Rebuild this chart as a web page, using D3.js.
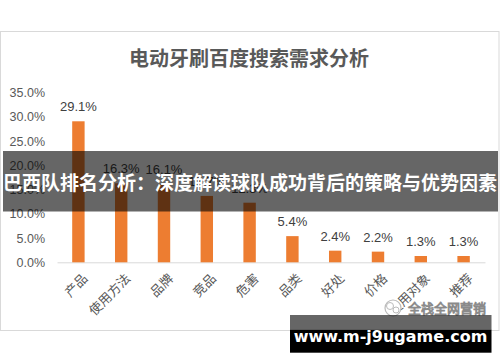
<!DOCTYPE html>
<html>
<head>
<meta charset="utf-8">
<script src="https://cdn.jsdelivr.net/npm/d3@7"></script>
<style>
  html, body { margin: 0; padding: 0; background: #fff; }
  svg { display: block; }
</style>
</head>
<body>
<script>
let categories = ["产品", "使用方法", "品牌", "竞品", "危害", "品类", "好处", "价格", "使用对象", "推荐"];
let values = [29.1, 16.3, 16.1, 13.7, 12.3, 5.4, 2.4, 2.2, 1.3, 1.3];
let yTicks = [0, 5, 10, 15, 20, 25, 30, 35];
let title = "电动牙刷百度搜索需求分析";
let bannerText = "巴西队排名分析：深度解读球队成功背后的策略与优势因素";
let siteText = "www.m-j9ugame.com";
let watermarkText = "全栈全网营销";

let width = 500;
let height = 362;

let margins = {
  top: 92.7,
  bottom: 99.7,
  left: 57,
  right: 15,
}

let cjk = "'Noto Sans CJK SC', 'Noto Sans', sans-serif";
let latin = "'Liberation Sans', Arial, sans-serif";

let data = d3.zip(categories, values).map(d => ({ cat: d[0], value: d[1] }));

let xScale = d3.scaleBand(categories, [margins.left, width - margins.right])
  .paddingInner(0.71)
  .paddingOuter(0.355);
let yScale = d3.scaleLinear([0, 35], [height - margins.bottom, margins.top]);

let svg = d3.create('svg')
  .attr('width', width)
  .attr('height', height);

// chart frame
svg.append('rect')
  .attr('x', 0.5)
  .attr('y', 31.5)
  .attr('width', 498.5)
  .attr('height', 299)
  .attr('fill', '#fff')
  .attr('stroke', '#d9d9d9')
  .attr('stroke-width', 1);

svg.append('text')
  .text(title)
  .attr('x', 249)
  .attr('y', 66)
  .attr('text-anchor', 'middle')
  .attr('font-family', cjk)
  .attr('font-weight', 'bold')
  .attr('font-size', 20)
  .attr('fill', '#595959');

let yAxis = d3.axisLeft(yScale)
  .tickValues(yTicks)
  .tickFormat(d => d3.format('.1f')(d) + '%')
  .tickSize(0)
  .tickPadding(12);

let gy = svg.append('g')
  .attr('transform', `translate(${margins.left}, 0)`)
  .call(yAxis);
gy.select('.domain').remove();
gy.selectAll('text')
  .attr('font-family', latin)
  .attr('font-size', 12.5)
  .attr('fill', '#595959');

let xAxis = d3.axisBottom(xScale)
  .tickSize(0)
  .tickSizeOuter(0);

let gx = svg.append('g')
  .attr('transform', `translate(0, ${yScale(0)})`)
  .call(xAxis);
gx.select('.domain')
  .attr('stroke', '#d9d9d9');
gx.selectAll('text')
  .attr('font-family', cjk)
  .attr('font-size', 13)
  .attr('fill', '#595959')
  .attr('text-anchor', 'end')
  .attr('dy', 0)
  .attr('transform', 'translate(8, 15) rotate(-45)');

svg.append('g')
  .selectAll('rect')
  .data(data)
  .join('rect')
  .attr('x', d => xScale(d.cat))
  .attr('y', d => yScale(d.value))
  .attr('width', xScale.bandwidth())
  .attr('height', d => yScale(0) - yScale(d.value))
  .attr('fill', '#ed7d31');

svg.append('g')
  .selectAll('text')
  .data(data)
  .join('text')
  .text(d => d3.format('.1f')(d.value) + '%')
  .attr('x', d => xScale(d.cat) + xScale.bandwidth() / 2)
  .attr('y', d => yScale(d.value) - 10)
  .attr('text-anchor', 'middle')
  .attr('font-family', latin)
  .attr('font-size', 13)
  .attr('fill', '#404040');

// watermark
let wm = svg.append('g');
wm.append('circle')
  .attr('cx', 393)
  .attr('cy', 308)
  .attr('r', 8)
  .attr('fill', '#fff')
  .attr('stroke', '#bbb')
  .attr('stroke-width', 1.2);
wm.append('circle')
  .attr('cx', 390)
  .attr('cy', 306)
  .attr('r', 3.5)
  .attr('fill', 'none')
  .attr('stroke', '#bbb');
wm.append('circle')
  .attr('cx', 396)
  .attr('cy', 310)
  .attr('r', 3)
  .attr('fill', 'none')
  .attr('stroke', '#bbb');
wm.append('text')
  .text(watermarkText)
  .attr('x', 408)
  .attr('y', 313)
  .attr('font-family', cjk)
  .attr('font-size', 13)
  .attr('fill', '#fff')
  .attr('stroke', '#8a8a8a')
  .attr('stroke-width', 0.9)
  .attr('paint-order', 'fill');

// overlay banner
svg.append('rect')
  .attr('x', 3)
  .attr('y', 151)
  .attr('width', 495)
  .attr('height', 60.5)
  .attr('fill', 'rgba(0,0,0,0.6)');
svg.append('text')
  .text(bannerText)
  .attr('x', 250)
  .attr('y', 189.5)
  .attr('text-anchor', 'middle')
  .attr('font-family', cjk)
  .attr('font-weight', 'bold')
  .attr('font-size', 19)
  .attr('fill', '#fff');

// site banner
svg.append('rect')
  .attr('x', 290)
  .attr('y', 315)
  .attr('width', 201.5)
  .attr('height', 14.5)
  .attr('fill', 'rgba(0,0,0,0.6)');
svg.append('rect')
  .attr('x', 290)
  .attr('y', 329.5)
  .attr('width', 201.5)
  .attr('height', 23.2)
  .attr('fill', '#000');
svg.append('text')
  .text(siteText)
  .attr('x', 390.5)
  .attr('y', 341.5)
  .attr('text-anchor', 'middle')
  .attr('font-family', "'DejaVu Sans', Verdana, sans-serif")
  .attr('font-weight', 'bold')
  .attr('font-size', 16)
  .attr('fill', '#fff');

document.body.prepend(svg.node());
</script>
</body>
</html>
